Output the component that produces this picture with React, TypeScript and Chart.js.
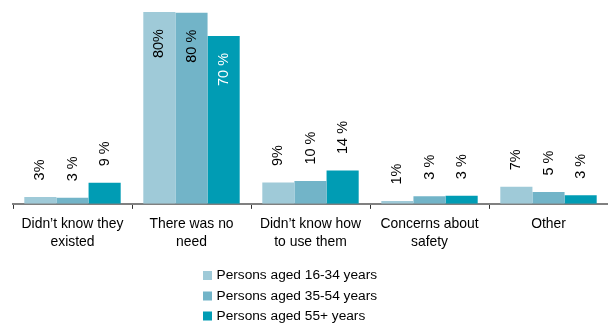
import React, { useEffect, useRef } from "react";
import { Chart, registerables } from "chart.js";

Chart.register(...registerables);

const categories: string[][] = [
  ["Didn’t know they", "existed"],
  ["There was no", "need"],
  ["Didn’t know how", "to use them"],
  ["Concerns about", "safety"],
  ["Other"],
];

const seriesNames = [
  "Persons aged 16-34 years",
  "Persons aged 35-54 years",
  "Persons aged 55+ years",
];

const values16to34 = [2.9, 80, 8.9, 1.2, 7.1];
const values35to54 = [2.5, 79.7, 9.5, 3.2, 4.9];
const values55plus = [8.8, 70, 13.9, 3.4, 3.6];

const labels16to34 = ["3%", "80%", "9%", "1%", "7%"];
const labels35to54 = ["3 %", "80 %", "10 %", "3 %", "5 %"];
const labels55plus = ["9 %", "70 %", "14 %", "3 %", "3 %"];

const colors = ["#9fcad8", "#72b4c8", "#009cb4"];
const insideLabelColors = ["#000000", "#000000", "#ffffff"];

const FONT = "'Liberation Sans', Arial, Helvetica, sans-serif";

const valueLabelPlugin = {
  id: "valueLabels",
  afterDatasetsDraw(chart: any) {
    const ctx = chart.ctx;
    const allLabels = [labels16to34, labels35to54, labels55plus];
    ctx.save();
    ctx.font = `14.5px ${FONT}`;
    ctx.textBaseline = "middle";
    chart.data.datasets.forEach((ds: any, di: number) => {
      const meta = chart.getDatasetMeta(di);
      meta.data.forEach((bar: any, i: number) => {
        const v = ds.data[i];
        const text = allLabels[di][i];
        ctx.save();
        if (v > 40) {
          ctx.translate(bar.x, bar.y + 17);
          ctx.rotate(-Math.PI / 2);
          ctx.textAlign = "right";
          ctx.fillStyle = insideLabelColors[di];
        } else {
          ctx.translate(bar.x, bar.y - 16.5);
          ctx.rotate(-Math.PI / 2);
          ctx.textAlign = "left";
          ctx.fillStyle = "#000000";
        }
        ctx.fillText(text, 0, 0);
        ctx.restore();
      });
    });
    ctx.restore();
  },
};

const legendPlugin = {
  id: "customLegend",
  afterDraw(chart: any) {
    const ctx = chart.ctx;
    const h = chart.height;
    const rows = [h - 47.5, h - 27, h - 7];
    ctx.save();
    ctx.font = `13.7px ${FONT}`;
    ctx.textBaseline = "middle";
    ctx.textAlign = "left";
    seriesNames.forEach((name, i) => {
      const y = rows[i];
      ctx.fillStyle = colors[i];
      ctx.fillRect(203, y - 4.5, 9, 9);
      ctx.fillStyle = "#000000";
      ctx.fillText(name, 216.5, y);
    });
    ctx.restore();
  },
};

export default function App() {
  const canvasRef = useRef<HTMLCanvasElement | null>(null);

  useEffect(() => {
    document.body.style.margin = "0";
    document.body.style.overflow = "hidden";
    const canvas = canvasRef.current;
    if (!canvas) return;
    const chart = new Chart(canvas, {
      type: "bar",
      data: {
        labels: categories as any,
        datasets: [
          { label: seriesNames[0], data: values16to34, backgroundColor: colors[0] },
          { label: seriesNames[1], data: values35to54, backgroundColor: colors[1] },
          { label: seriesNames[2], data: values55plus, backgroundColor: colors[2] },
        ],
      },
      options: {
        responsive: false,
        animation: false,
        maintainAspectRatio: false,
        layout: { padding: { left: 13, right: 0, top: 0, bottom: 66 } },
        datasets: {
          bar: { categoryPercentage: 0.81, barPercentage: 1, borderWidth: 0 },
        },
        plugins: {
          legend: { display: false },
          tooltip: { enabled: false },
        },
        scales: {
          x: {
            grid: {
              display: true,
              drawOnChartArea: false,
              drawTicks: true,
              tickLength: 5,
              color: "#333333",
              offset: true,
            },
            border: { display: true, color: "#808080", width: 2 },
            ticks: {
              color: "#000000",
              font: { size: 13.9, family: FONT, lineHeight: 1.3 },
              maxRotation: 0,
              autoSkip: false,
              padding: 6,
            },
          },
          y: {
            display: false,
            min: 0,
            max: 85,
          },
        },
      },
      plugins: [valueLabelPlugin, legendPlugin],
    });
    return () => chart.destroy();
  }, []);

  return (
    <div style={{ width: 608, height: 323 }}>
      <canvas ref={canvasRef} width={608} height={323} style={{ display: "block" }} />
    </div>
  );
}
